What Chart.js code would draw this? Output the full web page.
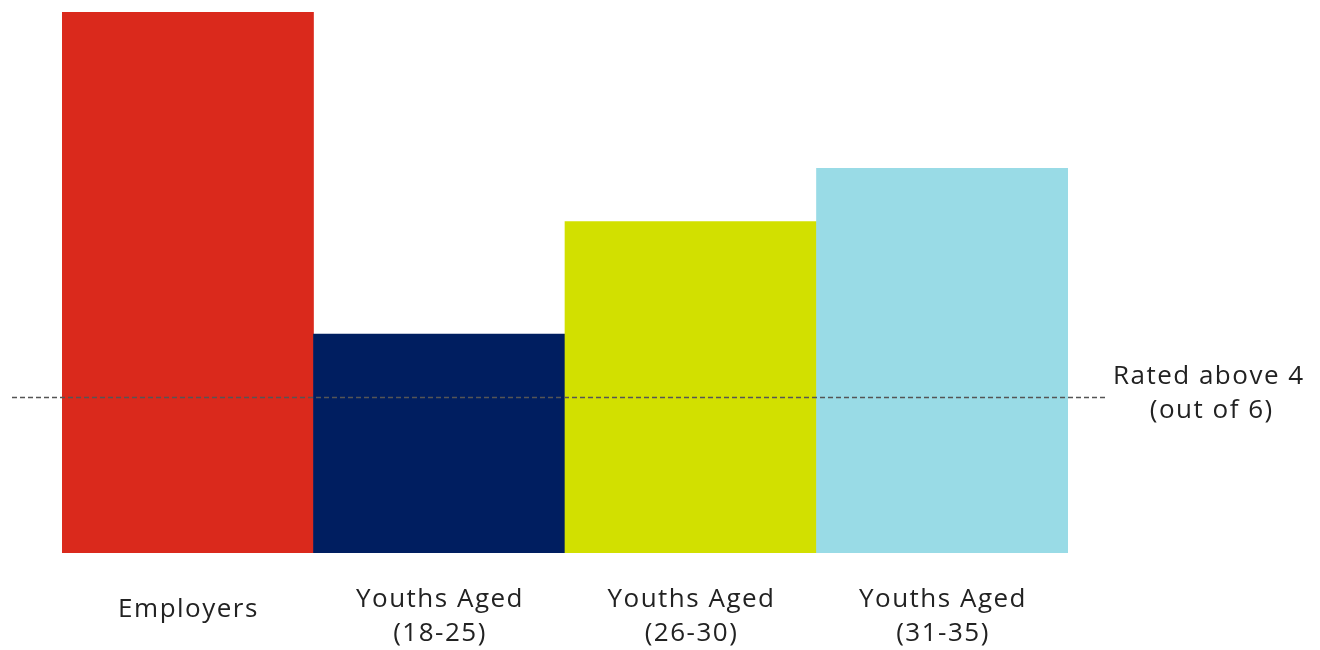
<!DOCTYPE html>
<html><head><meta charset="utf-8">
<script src="https://cdn.jsdelivr.net/npm/chart.js@4.4.1/dist/chart.umd.min.js"></script>
<style>html,body{margin:0;padding:0;background:#fff;}#wrap{width:1320px;height:650px;}</style>
</head><body><div id="wrap"><canvas id="c" width="1320" height="650"></canvas></div>
<script>
const categories = [["Employers"], ["Youths Aged", "(18-25)"], ["Youths Aged", "(26-30)"], ["Youths Aged", "(31-35)"]];
const values = [5.23, 4.20, 4.56, 4.73];
const barColors = ["#DA291C", "#001E60", "#D2E000", "#99DBE6"];
const thresholdValue = 4;
const thresholdLabel = ["Rated above 4", "(out of 6)"];
const yMin = 3.5, yMax = 5.23;
const FONT = "'Open Sans', sans-serif";
const SPACING = 1.5;

const overlay = {
  id: 'overlay',
  afterDatasetsDraw(chart) {
    const ctx = chart.ctx, x = chart.scales.x, y = chart.scales.y, ca = chart.chartArea;
    const ly = Math.round(y.getPixelForValue(thresholdValue)) + 0.5;
    ctx.save();
    ctx.strokeStyle = '#555';
    ctx.lineWidth = 1.3;
    ctx.setLineDash([5, 3]);
    ctx.beginPath();
    ctx.moveTo(ca.left - 50, ly);
    ctx.lineTo(ca.right + 37, ly);
    ctx.stroke();
    ctx.setLineDash([]);
    ctx.fillStyle = '#222';
    ctx.font = "26px " + FONT;
    ctx.letterSpacing = SPACING + 'px';
    ctx.textAlign = 'center';
    ctx.textBaseline = 'middle';
    const lx = ca.right + 140 + SPACING / 2;
    ctx.fillText(thresholdLabel[0], lx, ly - 21);
    ctx.fillText(thresholdLabel[1], lx + 3, ly + 13);
    categories.forEach((lines, i) => {
      const cx = x.getPixelForValue(i) + SPACING / 2;
      const lh = 34;
      const startY = lines.length === 1 ? 610 : 600;
      lines.forEach((t, j) => ctx.fillText(t, cx, startY + j * lh));
    });
    ctx.restore();
  }
};

new Chart(document.getElementById('c'), {
  type: 'bar',
  data: {
    labels: categories.map(l => l.join(' ')),
    datasets: [{ data: values, backgroundColor: barColors, borderWidth: 0, barPercentage: 1, categoryPercentage: 1 }]
  },
  options: {
    responsive: false,
    animation: false,
    devicePixelRatio: 1,
    layout: { padding: { left: 62, right: 252, top: 12, bottom: 97 } },
    plugins: { legend: { display: false }, tooltip: { enabled: false } },
    scales: {
      x: { display: false },
      y: { display: false, min: yMin, max: yMax }
    }
  },
  plugins: [overlay]
});
</script></body></html>
